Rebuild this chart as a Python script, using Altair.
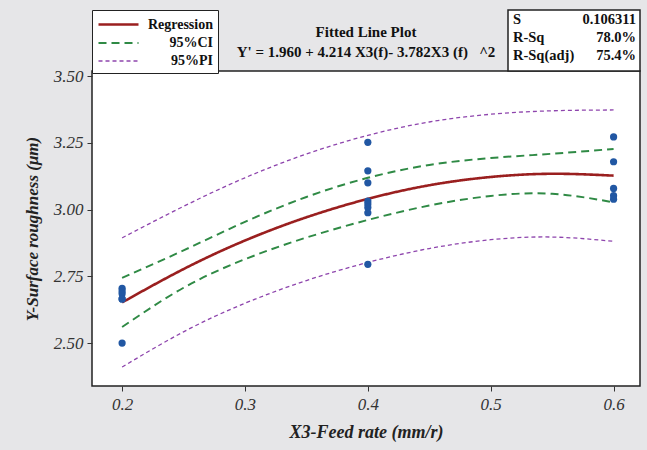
import altair as alt
import pandas as pd

# ---- data ----
x_fit = [0.20, 0.25, 0.30, 0.35, 0.40, 0.45, 0.50, 0.55, 0.60]
reg = [2.652, 2.777, 2.884, 2.971, 3.040, 3.091, 3.122, 3.134, 3.127]
ci_upper = [2.744, 2.847, 2.954, 3.047, 3.119, 3.167, 3.193, 3.209, 3.227]
ci_lower = [2.560, 2.707, 2.814, 2.895, 2.961, 3.015, 3.051, 3.059, 3.027]
pi_upper = [2.894, 3.012, 3.119, 3.208, 3.278, 3.328, 3.357, 3.370, 3.373]
pi_lower = [2.410, 2.542, 2.649, 2.734, 2.802, 2.854, 2.887, 2.897, 2.881]

obs_x = [0.2, 0.2, 0.2, 0.2, 0.2, 0.2,
         0.4, 0.4, 0.4, 0.4, 0.4, 0.4, 0.4, 0.4,
         0.6, 0.6, 0.6, 0.6, 0.6]
obs_y = [2.705, 2.695, 2.685, 2.665, 2.665, 2.500,
         3.252, 3.145, 3.100, 3.032, 3.021, 3.008, 2.988, 2.795,
         3.272, 3.179, 3.079, 3.052, 3.039]

series_names = ["Regression", "95%CI", "95%PI"]
series_colors = ["#9a1f1f", "#2f8a45", "#8e45ad"]
series_dash = [[1, 0], [8, 5], [4, 3]]
series_width = [2.6, 1.3, 1.3]

stat_names = ["S", "R-Sq", "R-Sq(adj)"]
stat_values = ["0.106311", "78.0%", "75.4%"]

x_ticks = [0.2, 0.3, 0.4, 0.5, 0.6]
y_ticks = [2.50, 2.75, 3.00, 3.25, 3.50]

title_lines = ["Fitted Line Plot",
               "Y' = 1.960 + 4.214 X3(f)- 3.782X3 (f)\u00a0\u00a0\u00a0^2"]

# ---- tables ----
rows = []
for name, band, vals in [("Regression", "fit", reg),
                         ("95%CI", "upper", ci_upper), ("95%CI", "lower", ci_lower),
                         ("95%PI", "upper", pi_upper), ("95%PI", "lower", pi_lower)]:
    for xv, yv in zip(x_fit, vals):
        rows.append({"x": xv, "y": yv, "series": name, "band": name + band})
lines_df = pd.DataFrame(rows)
obs_df = pd.DataFrame({"x": obs_x, "y": obs_y})
stats_df = pd.DataFrame({"names": ["\n".join(stat_names)],
                         "values": ["\n".join(stat_values)],
                         "title": ["\n".join(title_lines)]})

SERIF = "Liberation Serif"

xscale = alt.Scale(domain=[0.1755, 0.6215], nice=False, zero=False)
yscale = alt.Scale(domain=[2.339, 3.519], nice=False, zero=False)

xaxis = alt.Axis(values=x_ticks, format=".1f", title="X3-Feed rate (mm/r)",
                 labelFont=SERIF, labelFontStyle="italic", labelFontSize=17,
                 labelColor="#333", tickColor="#333", tickSize=5, labelPadding=5,
                 domain=False, grid=False, titleFont=SERIF, titleFontStyle="italic",
                 titleFontWeight="bold", titleFontSize=18, titleColor="#222",
                 titlePadding=11)
yaxis = alt.Axis(values=y_ticks, format=".2f", title="Y-Surface roughness (\u03bcm)",
                 labelFont=SERIF, labelFontStyle="italic", labelFontSize=17,
                 labelColor="#333", tickColor="#333", tickSize=5, labelPadding=4,
                 domain=False, grid=False, titleFont=SERIF, titleFontStyle="italic",
                 titleFontWeight="bold", titleFontSize=17, titleColor="#222",
                 titlePadding=12)

legend = alt.Legend(orient="none", legendX=0, legendY=-61, title=None,
                    fillColor="white", strokeColor="#222", padding=5,
                    labelFont=SERIF, labelFontWeight="bold", labelFontSize=14,
                    labelColor="#111", symbolType="M-1,0L4,0", symbolSize=256,
                    symbolStrokeWidth=1.5, rowPadding=2, labelAlign="right",
                    labelOffset=97)

lines = alt.Chart(lines_df).mark_line(interpolate="natural").encode(
    x=alt.X("x:Q", scale=xscale, axis=xaxis),
    y=alt.Y("y:Q", scale=yscale, axis=yaxis),
    color=alt.Color("series:N", scale=alt.Scale(domain=series_names, range=series_colors),
                    legend=legend),
    strokeDash=alt.StrokeDash("series:N", scale=alt.Scale(domain=series_names, range=series_dash),
                              legend=legend),
    strokeWidth=alt.StrokeWidth("series:N", scale=alt.Scale(domain=series_names, range=series_width),
                                legend=None),
    detail="band:N",
)

points = alt.Chart(obs_df).mark_circle(size=52, color="#2157a3", opacity=1).encode(
    x=alt.X("x:Q", scale=xscale),
    y=alt.Y("y:Q", scale=yscale),
)

title_txt = alt.Chart(stats_df).mark_text(
    align="center", baseline="top", font=SERIF, fontWeight="bold", fontSize=15,
    lineBreak="\n", lineHeight=20, color="#111").encode(
    x=alt.value(274), y=alt.value(-46), text="title:N")

stats_box = alt.Chart(stats_df).mark_rect(fill="white", stroke="#222", strokeWidth=1.5).encode(
    x=alt.value(416), x2=alt.value(548), y=alt.value(-61), y2=alt.value(0))
stats_names = alt.Chart(stats_df).mark_text(
    align="left", baseline="top", font=SERIF, fontWeight="bold", fontSize=14.5,
    lineBreak="\n", lineHeight=18, color="#111").encode(
    x=alt.value(421), y=alt.value(-58), text="names:N")
stats_vals = alt.Chart(stats_df).mark_text(
    align="right", baseline="top", font=SERIF, fontWeight="bold", fontSize=14.5,
    lineBreak="\n", lineHeight=18, color="#111").encode(
    x=alt.value(544), y=alt.value(-58), text="values:N")

chart = alt.layer(lines, points, title_txt, stats_box, stats_names, stats_vals).properties(
    width=548, height=315,
    padding={"left": 92, "top": 71, "right": 7, "bottom": 64},
    autosize=alt.AutoSizeParams(type="none"),
    background="#e6e6e8",
).configure_view(stroke="#222", strokeWidth=1.5, fill="white")

chart.save("out.html", embed_options={"renderer": "svg", "actions": False})
